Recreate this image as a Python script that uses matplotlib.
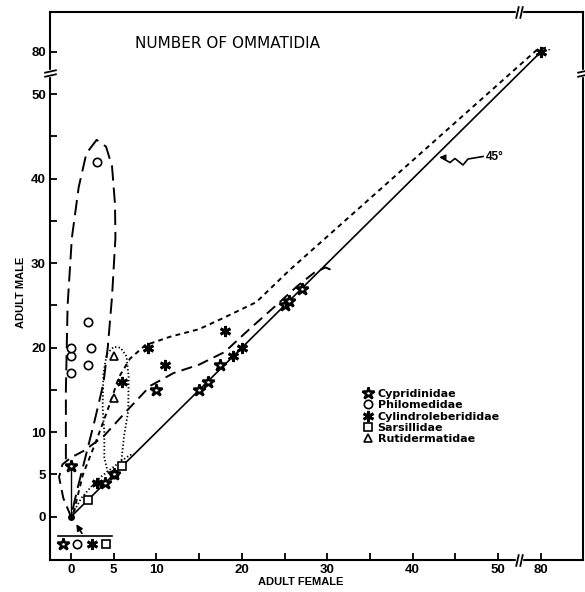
import numpy as np
import matplotlib
matplotlib.use("Agg")
import matplotlib.pyplot as plt
from matplotlib.path import Path

# values (adult female, adult male ommatidia)
cyp_x = [0, 4, 5, 10, 15, 16, 17.5, 25, 25.5, 27]
cyp_y = [6, 4, 5, 15, 15, 16, 18, 25, 25.5, 27]
phil_x = [0, 0, 0, 2, 2.3, 2, 3, 5]
phil_y = [17, 19, 20, 18, 20, 23, 42, 5]
cyl_x = [3, 6, 9, 11, 18, 19, 20, 80]
cyl_y = [4, 16, 20, 18, 22, 19, 20, 80]
sars_x = [2, 6]
sars_y = [2, 6]
rut_x = [5, 5]
rut_y = [19, 14]
families = ["Cypridinidae", "Philomedidae", "Cylindroleberididae",
            "Sarsillidae", "Rutidermatidae"]
origin_families = ["Cypridinidae", "Philomedidae", "Cylindroleberididae", "Sarsillidae"]

# hand-drawn envelopes around each family
phil_env_x = [-0.6, -0.6, -0.4, 0.1, 0.9, 1.8, 3.0, 4.1, 4.8, 5.15, 5.2, 4.8, 4.3, 3.8, 2.8, 1.8, 0.8, 0]
phil_env_y = [6.8, 15, 25, 33, 39, 43, 44.6, 43.8, 41.5, 37, 33, 26, 20, 15.8, 11.5, 7.5, 3.5, 0]
cyp_env_x = [0, -0.9, -1.4, -1.0, 0, 1.5, 3.8, 6.5, 9.3, 12, 15, 18, 21, 24, 26.5, 28.5, 29.8, 30.3, 30.1]
cyp_env_y = [0, 2.2, 4.7, 6.2, 7.0, 7.8, 9.5, 12.5, 15.5, 17.0, 18.0, 19.5, 22.3, 25.0, 27.3, 28.9, 29.5, 29.3, 29.0]
cyl_env_x = [0.3, 1.4, 3.0, 4.6, 5.6, 6.9, 8.7, 11.6, 15, 18, 21.7, 25.6, 77.6, 83.6, 86, 86]
cyl_env_y = [0.5, 5.0, 9.1, 13.5, 16.5, 18.7, 20.3, 21.3, 22.2, 23.6, 25.4, 29.2, 81.8, 83.0, 82.4, 81.2]
sars_env_x = [0, 1.2, 2.4, 3.6, 4.6, 5.9, 6.9, 7.4]
sars_env_y = [0, 2.2, 3.6, 4.8, 5.6, 6.6, 7.3, 7.4]
rut_env_x = [4.3, 3.9, 3.9, 3.7, 3.8, 4.2, 5.0, 5.8, 6.5, 6.75, 6.7, 6.2, 5.9]
rut_env_y = [5.3, 7, 10, 13, 17, 19.3, 20.1, 20.0, 19.0, 16.5, 12.5, 9.5, 6.6]


def fwd(v):
    v = np.asarray(v, dtype=float)
    return np.where(v > 50, 50 + (v - 50) / 6, v)


def inv(u):
    u = np.asarray(u, dtype=float)
    return np.where(u > 50, 50 + (u - 50) * 6, u)


plt.rcParams["lines.scale_dashes"] = False
plt.rcParams["font.family"] = ["Liberation Sans", "DejaVu Sans"]

fig = plt.figure(figsize=(5.85, 5.92), dpi=100)
ax = fig.add_axes([50 / 585, 1 - 560 / 592, 533 / 585, 548 / 592])
ax.set_xscale("function", functions=(fwd, inv))
ax.set_yscale("function", functions=(fwd, inv))
ax.set_xlim(-2.46, 109.7)
ax.set_ylim(-5.12, 108.4)

for s in ax.spines.values():
    s.set_linewidth(1.5)

# 45 degree line and envelopes
ax.plot([0, 80], [0, 80], color="black", lw=1.2, zorder=2)
ax.plot([0, 0], [0, 6], color="black", lw=1.0, zorder=2)
ax.plot(phil_env_x, phil_env_y, color="black", lw=1.4, ls=(0, (11, 5)))
ax.plot(cyp_env_x, cyp_env_y, color="black", lw=1.4, ls=(0, (8, 4.5)))
ax.plot(cyl_env_x, cyl_env_y, color="black", lw=1.4, ls=(0, (3.5, 3)))
ax.plot(sars_env_x, sars_env_y, color="black", lw=1.3, ls=(0, (1, 1.6)))
ax.plot(rut_env_x, rut_env_y, color="black", lw=1.3, ls=(0, (1, 1.6)))

star = dict(marker="*", ms=9, mfc="white", mec="black", mew=1.8, ls="none")
circ = dict(marker="o", ms=6, mfc="white", mec="black", mew=1.2, ls="none")
aster = dict(marker=(6, 2, 0), ms=8, mfc="black", mec="black", mew=2.0, ls="none")
sq = dict(marker="s", ms=6, mfc="white", mec="black", mew=1.2, ls="none")
tri = dict(marker="^", ms=6, mfc="white", mec="black", mew=1.2, ls="none")
styles = [star, circ, aster, sq, tri]

h1, = ax.plot(phil_x, phil_y, zorder=4, **circ)
h0, = ax.plot(cyp_x, cyp_y, zorder=4, **star)
h2, = ax.plot(cyl_x, cyl_y, zorder=4, **aster)
h3, = ax.plot(sars_x, sars_y, zorder=4, **sq)
h4, = ax.plot(rut_x, rut_y, zorder=4, **tri)
ax.plot([0], [0], marker="o", ms=4, color="black", zorder=5)

# families with zero ommatidia in both sexes
ax.plot([-1.5, 4.8], [-2.3, -2.3], color="black", lw=1.2, clip_on=False)
for i, fam in enumerate(origin_families):
    st = styles[families.index(fam)]
    ax.plot([-0.9 + i * 1.65], [-3.25], clip_on=False, zorder=4, **st)
ax.annotate("", xy=(0.45, -0.6), xytext=(1.45, -2.25),
            arrowprops=dict(arrowstyle="-|>", color="black", lw=1.2,
                            mutation_scale=9))

ax.legend([h0, h1, h2, h3, h4], families, loc="upper left",
          bbox_to_anchor=(362 / 585, 1 - 389 / 592), bbox_transform=fig.transFigure,
          frameon=False, prop=dict(family="DejaVu Sans", weight="bold", size=8),
          handlelength=1.0, handletextpad=0.4, labelspacing=0.12, borderpad=0,
          borderaxespad=0, numpoints=1)

# ticks
major = [0, 5, 10, 20, 30, 40, 50, 80]
minor = [15, 25, 35, 45]
ax.set_xticks(major)
ax.set_xticklabels([str(t) for t in major])
ax.set_xticks(minor, minor=True)
ax.set_yticks(major)
ax.set_yticklabels([str(t) for t in major])
ax.set_yticks(minor, minor=True)
ax.tick_params(which="both", direction="in", length=5, width=1.3, pad=3)
for lab in ax.get_xticklabels() + ax.get_yticklabels():
    lab.set_fontweight("bold")
    lab.set_fontsize(9.5)

# axis breaks
brk_h = Path([(-0.55, -1), (-0.1, 1), (0.1, -1), (0.55, 1)],
             [Path.MOVETO, Path.LINETO, Path.MOVETO, Path.LINETO])
brk_v = Path([(-1, -0.55), (1, -0.1), (-1, 0.1), (1, 0.55)],
             [Path.MOVETO, Path.LINETO, Path.MOVETO, Path.LINETO])
for yy in (0, 1):
    ax.plot([65], [yy], transform=ax.get_xaxis_transform(), marker="s", ms=4,
            mfc="white", mec="white", clip_on=False, zorder=6)
    ax.plot([65], [yy], transform=ax.get_xaxis_transform(), marker=brk_h, ms=9,
            mec="black", mew=1.3, clip_on=False, zorder=7)
for xx in (0, 1):
    ax.plot([xx], [65], transform=ax.get_yaxis_transform(), marker="s", ms=4,
            mfc="white", mec="white", clip_on=False, zorder=6)
    ax.plot([xx], [65], transform=ax.get_yaxis_transform(), marker=brk_v, ms=9,
            mec="black", mew=1.3, clip_on=False, zorder=7)

# text
ax.text((135 - 50) / 533, (560 - 43) / 548, "NUMBER OF OMMATIDIA",
        transform=ax.transAxes, fontsize=11, family="DejaVu Sans",
        va="center", ha="left")
ax.text((486 - 50) / 533, (560 - 157) / 548, "45°", transform=ax.transAxes,
        fontsize=8.5, fontweight="bold", va="center", ha="left")
sq_x = [483, 468, 463, 455, 450, 441]
sq_y = [156.5, 159, 165, 158.5, 162.5, 157.5]
ax.plot([(x - 50) / 533 for x in sq_x], [(560 - y) / 548 for y in sq_y],
        transform=ax.transAxes, color="black", lw=1.2)
ax.annotate("", xy=((437 - 50) / 533, (560 - 157) / 548),
            xytext=((445 - 50) / 533, (560 - 157.3) / 548),
            xycoords="axes fraction", textcoords="axes fraction",
            arrowprops=dict(arrowstyle="-|>", color="black", lw=1.0, mutation_scale=8))

fig.text(301 / 585, 1 - 582 / 592, "ADULT FEMALE", fontsize=8, fontweight="bold",
         ha="center", va="center")
fig.text(21 / 585, 1 - 292 / 592, "ADULT MALE", fontsize=8, fontweight="bold",
         ha="center", va="center", rotation=90)

fig.savefig("out.png", dpi=100)
